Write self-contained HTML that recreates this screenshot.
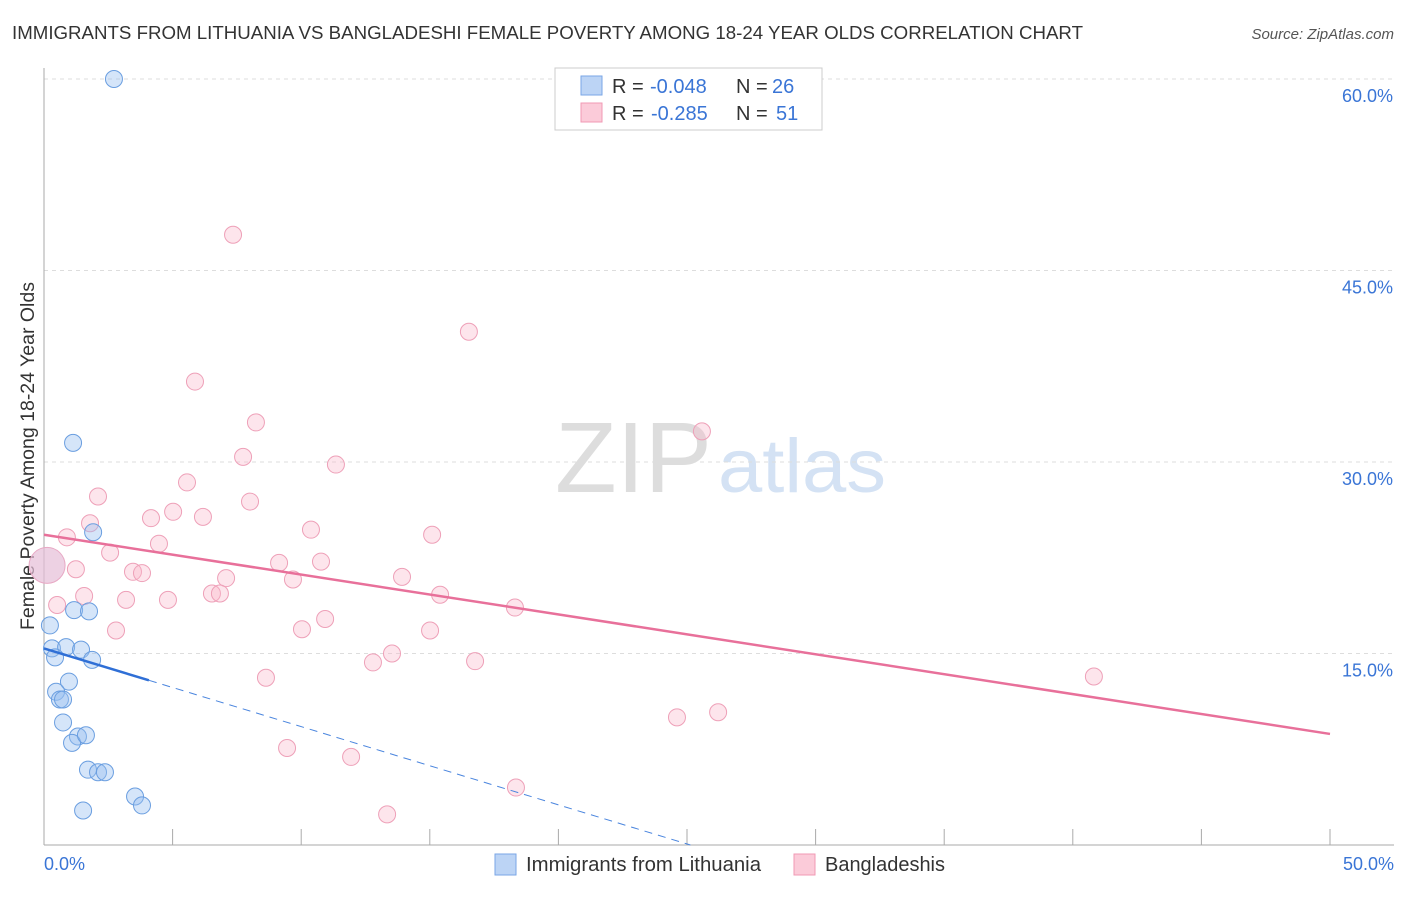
<!DOCTYPE html>
<html><head><meta charset="utf-8"><style>
body{margin:0;background:#fff;font-family:"Liberation Sans",sans-serif;}
svg text{font-family:"Liberation Sans",sans-serif;}
</style></head><body>
<svg id="chart" width="1406" height="892">
<text x="12" y="39" font-size="18" fill="#333" textLength="1071" lengthAdjust="spacingAndGlyphs">IMMIGRANTS FROM LITHUANIA VS BANGLADESHI FEMALE POVERTY AMONG 18-24 YEAR OLDS CORRELATION CHART</text>
<text x="1394" y="39" font-size="15" fill="#555" font-style="italic" text-anchor="end">Source: ZipAtlas.com</text>
<text x="555" y="492" font-size="100" fill="#ddd" font-family="Liberation Serif" textLength="157" lengthAdjust="spacingAndGlyphs">ZIP</text>
<text x="718" y="492" font-size="76" fill="#d4e2f4" textLength="168" lengthAdjust="spacingAndGlyphs">atlas</text>
<text transform="translate(34,456) rotate(-90)" font-size="19" fill="#333" text-anchor="middle" textLength="348" lengthAdjust="spacingAndGlyphs">Female Poverty Among 18-24 Year Olds</text>
<g id="grid"></g><g id="marks"></g>
<g>
<rect x="555" y="68" width="267" height="62" fill="#fff" stroke="#ccc"/>
<rect x="581" y="76" width="21" height="19" fill="#bcd4f5" stroke="#7aa6e6"/>
<rect x="581" y="103" width="21" height="19" fill="#fbcbd9" stroke="#f09ab4"/>
<text x="612" y="93" font-size="20" fill="#333">R = <tspan x="650" fill="#3a75d6">-0.048</tspan><tspan x="736">N = </tspan><tspan x="772" fill="#3a75d6">26</tspan></text>
<text x="612" y="120" font-size="20" fill="#333">R = <tspan x="651" fill="#3a75d6">-0.285</tspan><tspan x="736">N = </tspan><tspan x="776" fill="#3a75d6">51</tspan></text>
</g>
<g>
<rect x="495" y="854" width="21" height="21" fill="#bcd4f5" stroke="#7aa6e6"/>
<text x="526" y="871" font-size="20" fill="#333" textLength="235" lengthAdjust="spacingAndGlyphs">Immigrants from Lithuania</text>
<rect x="794" y="854" width="21" height="21" fill="#fbcbd9" stroke="#f09ab4"/>
<text x="825" y="871" font-size="20" fill="#333" textLength="120" lengthAdjust="spacingAndGlyphs">Bangladeshis</text>
</g>
</svg>
<script>
const yTicks=[15,30,45,60];
const yTickLabels=["15.0%","30.0%","45.0%","60.0%"];
const xTickLabels=["0.0%","50.0%"];
const blueX=[2.72,1.13,1.91,1.17,1.75,0.23,0.31,0.86,1.44,0.43,1.87,0.97,0.47,0.62,0.74,0.74,1.32,1.09,1.63,1.71,2.10,2.37,1.52,3.54,3.81];
const blueY=[60.0,31.5,24.5,18.4,18.3,17.2,15.4,15.5,15.3,14.7,14.5,12.8,12.0,11.4,11.4,9.6,8.5,8.0,8.6,5.9,5.7,5.7,2.7,3.8,3.1];
const pinkX=[7.35,16.52,5.87,8.24,25.58,7.74,11.35,2.10,5.56,8.01,1.79,4.16,5.02,6.18,10.38,15.09,0.89,4.47,2.57,9.14,10.77,3.46,3.81,1.24,7.08,13.92,9.68,0.51,1.56,3.19,4.82,6.53,6.84,15.40,18.31,10.93,2.80,10.03,15.01,13.53,12.79,16.76,8.63,40.82,24.61,26.21,9.45,11.94,18.35,13.34];
const pinkY=[47.8,40.2,36.3,33.1,32.4,30.4,29.8,27.3,28.4,26.9,25.2,25.6,26.1,25.7,24.7,24.3,24.1,23.6,22.9,22.1,22.2,21.4,21.3,21.6,20.9,21.0,20.8,18.8,19.5,19.2,19.2,19.7,19.7,19.6,18.6,17.7,16.8,16.9,16.8,15.0,14.3,14.4,13.1,13.2,10.0,10.4,7.6,6.9,4.5,2.4];
const bigPoint=[0.12,21.9];
const pinkTrend=[24.3,8.7];
const blueTrend=[15.4,12.9,4.08];
const X=v=>44+v/50*1286, Y=v=>845-v/15*191.5;
const NS="http://www.w3.org/2000/svg";
function mk(p,t,a){const e=document.createElementNS(NS,t);for(const k in a)e.setAttribute(k,a[k]);p.appendChild(e);return e;}
const grid=document.getElementById('grid'), marks=document.getElementById('marks');
yTicks.forEach((t,i)=>{
 const l=mk(grid,'line',{x1:44,x2:1394,y1:Y(t),y2:Y(t),stroke:'#ddd','stroke-dasharray':'4,4'});
 
 
 const tx=mk(grid,'text',{x:1393,y:Y(t)+23,'font-size':18,fill:'#3a75d6','text-anchor':'end'});tx.textContent=yTickLabels[i];
 
 
});
let ax=mk(grid,'line',{x1:44,x2:44,y1:68,y2:845,stroke:'#aaa'});


ax=mk(grid,'line',{x1:44,x2:1394,y1:845,y2:845,stroke:'#aaa'});


for(let i=0;i<=10;i++){const t=mk(grid,'line',{x1:X(i*5),x2:X(i*5),y1:829,y2:845,stroke:'#aaa'});
 
 }
[[0,'start',44],[50,'end',1394]].forEach((d,i)=>{const t=mk(grid,'text',{x:d[2],y:870,'font-size':18,fill:'#3a75d6','text-anchor':d[1]});t.textContent=xTickLabels[i];
 
 });
function dot(x,y,r,f,s,name){const c=mk(marks,'circle',{cx:X(x),cy:Y(y),r:r,fill:f,stroke:s,'stroke-width':1});
 
 }
pinkX.forEach((x,i)=>dot(x,pinkY[i],8.5,'rgba(248,180,200,0.35)','#eea0b8','bangladeshi-point'));
blueX.forEach((x,i)=>dot(x,blueY[i],8.5,'rgba(150,190,240,0.4)','#6a9ee0','lithuania-point'));
dot(bigPoint[0],bigPoint[1],18,'rgba(230,190,215,0.7)','#e8a8c4','combined-large-point');
let ln=mk(marks,'line',{x1:X(0),y1:Y(pinkTrend[0]),x2:X(50),y2:Y(pinkTrend[1]),stroke:'#e8709a','stroke-width':2.5});


const slope=(blueTrend[1]-blueTrend[0])/blueTrend[2];
ln=mk(marks,'line',{x1:X(0),y1:Y(blueTrend[0]),x2:X(blueTrend[2]),y2:Y(blueTrend[1]),stroke:'#2f6fd6','stroke-width':2.5});


const xe=-blueTrend[0]/slope;
ln=mk(marks,'line',{x1:X(blueTrend[2]),y1:Y(blueTrend[1]),x2:X(xe),y2:Y(0),stroke:'#4a85de','stroke-width':1,'stroke-dasharray':'8,6'});


</script>
</body></html>
